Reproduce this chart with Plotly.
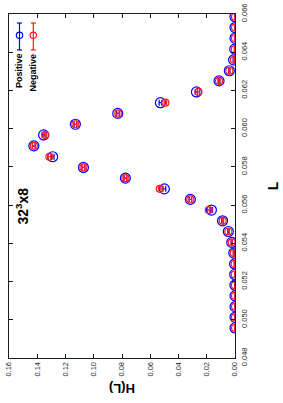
import plotly.graph_objects as go

# ---- data ----
L_vals = [0.04957, 0.05013, 0.05069, 0.05125, 0.05181, 0.05237, 0.05292, 0.05349,
          0.05405, 0.05462, 0.05518, 0.05574, 0.05630, 0.05685, 0.05741, 0.05797,
          0.05853, 0.05910, 0.05967, 0.06023, 0.06080, 0.06136, 0.06192, 0.06250,
          0.06303, 0.06360, 0.06416, 0.06473, 0.06529, 0.06586]
H_pos = [0.0000, 0.0000, 0.0000, 0.0000, 0.0001, 0.0002, 0.0003, 0.0009,
         0.0023, 0.0047, 0.0088, 0.0167, 0.0316, 0.0500, 0.0776, 0.1073,
         0.1291, 0.1424, 0.1355, 0.1130, 0.0830, 0.0528, 0.0273, 0.0113,
         0.0040, 0.0010, 0.0002, 0.0000, 0.0000, 0.0000]
H_neg = [0.0000, 0.0000, 0.0000, 0.0000, 0.0001, 0.0002, 0.0003, 0.0009,
         0.0023, 0.0047, 0.0087, 0.0186, 0.0316, 0.0533, 0.0776, 0.1073,
         0.1314, 0.1424, 0.1343, 0.1130, 0.0826, 0.0493, 0.0259, 0.0113,
         0.0040, 0.0008, 0.0002, 0.0000, 0.0000, 0.0000]
err_pos = [0.0001, 0.0001, 0.0001, 0.0001, 0.0001, 0.0001, 0.0002, 0.0003,
           0.0004, 0.0005, 0.0006, 0.0008, 0.0009, 0.0010, 0.0010, 0.0010,
           0.0010, 0.0010, 0.0010, 0.0010, 0.0010, 0.0009, 0.0008, 0.0006,
           0.0004, 0.0003, 0.0002, 0.0001, 0.0001, 0.0001]
err_neg = err_pos
H_ticks = [0.00, 0.02, 0.04, 0.06, 0.08, 0.10, 0.12, 0.14, 0.16]
L_ticks = [0.048, 0.050, 0.052, 0.054, 0.056, 0.058, 0.060, 0.062, 0.064, 0.066]
series_names = ["Positive", "Negative"]
series_colors = ["#0000ff", "#ff1a1a"]

FONT = "Arial, Liberation Sans, Helvetica, sans-serif"
W, H = 283, 403
ml, mr, mt, mb = 9, 48, 14, 45
pw, ph = W - ml - mr, H - mt - mb

fig = go.Figure()
fig.add_trace(go.Scatter(
    x=H_pos, y=L_vals, mode="markers", name=series_names[0],
    marker=dict(symbol="circle-open", size=10, color=series_colors[0], line=dict(width=1.2)),
    error_x=dict(type="data", array=err_pos, color=series_colors[0], thickness=1.2, width=3),
    showlegend=False))
fig.add_trace(go.Scatter(
    x=H_neg, y=L_vals, mode="markers", name=series_names[1],
    marker=dict(symbol="circle-open", size=7, color=series_colors[1], line=dict(width=1.2)),
    error_x=dict(type="data", array=err_neg, color=series_colors[1], thickness=1.2, width=3),
    showlegend=False))

axis_common = dict(showline=True, linecolor="#1a1a1a", linewidth=1, mirror="allticks",
                   ticks="inside", ticklen=4, tickcolor="#1a1a1a", showgrid=False,
                   zeroline=False, tickangle=-90, automargin=False,
                   tickfont=dict(family=FONT, size=7.5, color="#262626"))
fig.update_layout(
    width=W, height=H, margin=dict(l=ml, r=mr, t=mt, b=mb, autoexpand=False),
    paper_bgcolor="white", plot_bgcolor="white", showlegend=False,
    xaxis=dict(range=[0.16, 0.0], tickvals=H_ticks,
               ticktext=[f"{v:.2f}" for v in H_ticks], **axis_common),
    yaxis=dict(range=[0.048, 0.066], side="right", tickvals=L_ticks, ticklabelstandoff=2,
               ticktext=[f"{v:.3f}" for v in L_ticks],
               title=dict(text="<b>L</b>", standoff=20,
                          font=dict(family=FONT, size=14, color="black")),
               **axis_common),
)

def px_x(x):
    return (x - ml) / pw

def px_y(y):
    return (H - mb - y) / ph

ann = []
ann.append(dict(text="<b>H(L)</b>", x=0.5, y=px_y(389), xref="paper", yref="paper",
                xanchor="center", yanchor="middle", textangle=180, showarrow=False,
                font=dict(family=FONT, size=13, color="black")))
ann.append(dict(text="<b>32<sup>3</sup>x8</b>", x=px_x(22.5), y=px_y(206), xref="paper", yref="paper",
                xanchor="center", yanchor="middle", textangle=-90, showarrow=False,
                font=dict(family=FONT, size=14, color="black")))

shapes = []
leg_x = [19.5, 33.3]
leg_text_y = [70.5, 72.3]
for i, name in enumerate(series_names):
    cx = px_x(leg_x[i])
    c = series_colors[i]
    shapes.append(dict(type="line", xref="paper", yref="paper", x0=cx, x1=cx,
                       y0=px_y(23), y1=px_y(50), line=dict(color=c, width=1.2)))
    for yy in (23, 50):
        shapes.append(dict(type="line", xref="paper", yref="paper",
                           x0=px_x(leg_x[i] - 2.5), x1=px_x(leg_x[i] + 2.5),
                           y0=px_y(yy), y1=px_y(yy), line=dict(color=c, width=1.2)))
    shapes.append(dict(type="circle", xref="paper", yref="paper",
                       x0=px_x(leg_x[i] - 3.2), x1=px_x(leg_x[i] + 3.2),
                       y0=px_y(35.3 - 3.2), y1=px_y(35.3 + 3.2),
                       line=dict(color=c, width=1.2), fillcolor="rgba(0,0,0,0)"))
    ann.append(dict(text=f"<b>{name}</b>", x=cx, y=px_y(leg_text_y[i]), xref="paper", yref="paper",
                    xanchor="center", yanchor="middle", textangle=-90, showarrow=False,
                    font=dict(family=FONT, size=9, color="black")))

fig.update_layout(annotations=ann, shapes=shapes)
fig.write_html("out.html", config={"displayModeBar": False},
               post_script="document.body.style.margin='0';document.body.style.overflow='hidden';")
